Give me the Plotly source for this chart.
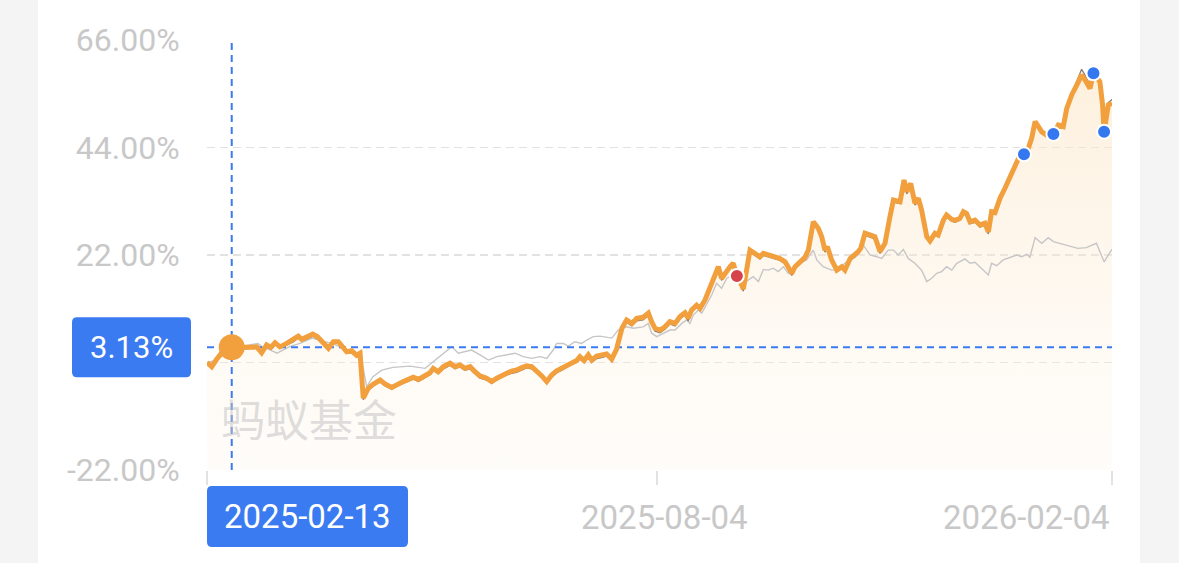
import plotly.graph_objects as go
import pandas as pd

# ---------------- data ----------------
start_date = "2025-02-03"
end_date = "2026-02-04"
mid_tick = "2025-08-04"
cross_date = "2025-02-13"
cross_value = 3.13

y_ticks = [-22, 0, 22, 44, 66]
# the 0.00% label sits under the blue value box in the reference
y_tick_text = ["-22.00%", "", "22.00%", "44.00%", "66.00%"]

# fund cumulative return (%), days counted from start_date
fund_days = [
    0, 1.9, 3.9, 5.7, 10, 16.6, 18.1, 20.1, 22.1, 24.1,
    25.8, 27.5, 29.5, 32.2, 34.9, 36.9, 38.3, 40.3, 42.8, 44.6,
    46.8, 49.1, 51.1, 53.1, 54.5, 56.5, 58.5, 60.5, 61.9, 63.2,
    65.2, 67.3, 70.0, 72.0, 74.7, 77.4, 79.4, 80.8, 83.4, 85.5,
    88.2, 90.2, 91.5, 93.5, 95.6, 98.3, 100.3, 102.3, 104.3, 106.4,
    108.4, 110.4, 113.1, 115.1, 117.2, 119.2, 121.2, 123.2, 125.2, 127.3,
    129.3, 131.3, 133.3, 135.4, 137.4, 139.4, 141.4, 143.4, 145.5, 147.5,
    149.5, 150.8, 152.5, 154.2, 155.6, 157.6, 159.6, 161.6, 163.7, 165.6,
    167.8, 169.7, 171.8, 173.8, 176.4, 178.5, 179.8, 181.2, 183.2, 185.2,
    187.2, 189.3, 191.3, 193.3, 194.6, 196.0, 198.0, 199.4, 201.4, 203.4,
    205.4, 206.8, 208.1, 209.9, 211.5, 212.8, 214.3, 216.2, 216.9, 219.6,
    221.6, 223.6, 225.0, 227.0, 229.0, 231.7, 233.8, 235.1, 236.5, 237.8,
    239.8, 241.8, 243.2, 245.2, 247.2, 248.6, 249.9, 250.9, 252.6, 254.7,
    256.7, 258.0, 260.1, 262.1, 263.4, 264.4, 266.1, 268.1, 270.1, 272.2,
    274.2, 276.2, 277.6, 280.3, 281.9, 283.0, 284.6, 286.3, 287.7, 289.0,
    291.1, 292.4, 294.4, 295.7, 297.8, 299.1, 301.2, 302.5, 304.5, 305.9,
    307.2, 308.6, 310.6, 312.6, 314.6, 316.0, 317.3, 318.7, 320.7, 322.7,
    324.7, 326.8, 328.8, 330.4, 332.1, 333.5, 334.9, 336.2, 337.6, 339.7,
    342.3, 344.3, 346.3, 347.7, 349.7, 351.8, 353.7, 355.1, 357.1, 358.5,
    361.1, 362.2, 362.8, 364.5, 366.0,
]
fund_vals = [
    0.0, -0.86, 0.66, 1.8, 3.13, 3.0, 3.1, 3.2, 2.0, 3.6,
    3.1, 4.05, 3.2, 3.9, 4.6, 5.4, 4.75, 5.15, 5.8, 5.3,
    4.25, 2.9, 4.25, 4.25, 3.4, 2.2, 2.4, 1.5, 1.9, -7.3,
    -5.3, -4.4, -3.6, -4.4, -5.1, -4.25, -3.9, -3.6, -3.0, -3.45,
    -2.55, -2.1, -1.2, -1.9, -0.85, -0.15, -0.85, -0.5, -1.2, -0.85,
    -1.9, -2.75, -3.2, -3.9, -3.2, -2.55, -2.2, -1.75, -1.55, -1.05,
    -0.7, -0.85, -1.7, -2.75, -3.9, -2.55, -1.7, -1.2, -0.5, 0.0,
    0.4, 1.2, 0.4, 1.55, 0.5, 1.3, 1.5, 1.75, 0.7, 2.7,
    7.0, 8.7, 8.0, 9.05, 9.25, 10.1, 8.35, 7.0, 6.65, 7.3,
    8.35, 8.0, 9.4, 10.2, 9.05, 10.75, 11.75, 11.1, 12.8, 15.2,
    18.25, 19.6, 17.2, 18.6, 19.6, 20.3, 17.7, 15.9, 15.0, 23.0,
    22.35, 21.65, 22.35, 22.0, 21.65, 21.3, 20.6, 19.3, 18.25, 19.6,
    20.6, 21.5, 23.0, 28.8, 27.45, 25.75, 23.0, 23.7, 21.0, 18.9,
    19.6, 18.9, 21.3, 22.0, 22.7, 23.4, 26.45, 26.1, 25.75, 22.7,
    24.4, 29.85, 33.25, 32.9, 37.35, 34.95, 36.65, 32.6, 33.6, 31.2,
    25.75, 24.9, 26.45, 26.1, 29.15, 30.2, 29.3, 29.1, 29.5, 30.85,
    30.5, 28.8, 29.15, 28.15, 28.5, 26.75, 30.85, 30.7, 33.6, 35.65,
    37.7, 40.4, 42.45, 42.6, 43.8, 45.9, 49.3, 48.3, 47.2, 46.5,
    46.75, 48.6, 48.3, 52.0, 54.75, 56.8, 58.85, 57.8, 56.1, 59.2,
    57.45, 52.7, 47.2, 52.7, 53.05,
]
# peer average (dark thin line), same days as the fund
peer_vals = [
    -0.3, -1.2, 0.3, 1.4, 2.8, 2.8, 3.0, 3.0, 1.7, 3.2,
    2.8, 3.7, 2.9, 3.5, 4.2, 5.0, 4.4, 4.8, 5.4, 4.9,
    3.9, 2.6, 3.9, 3.9, 3.0, 1.9, 2.0, 1.1, 1.5, -7.6,
    -5.7, -4.8, -4.0, -4.8, -5.5, -4.7, -4.3, -4.0, -3.4, -3.9,
    -3.0, -2.5, -1.6, -2.3, -1.3, -0.6, -1.3, -0.9, -1.6, -1.3,
    -2.3, -3.2, -3.6, -4.3, -3.6, -3.0, -2.6, -2.2, -2.0, -1.5,
    -1.1, -1.3, -2.1, -3.2, -4.3, -3.0, -2.1, -1.6, -0.9, -0.4,
    0.0, 0.7, 0.0, 1.1, 0.0, 0.8, 1.0, 1.3, 0.2, 2.3,
    6.5, 8.2, 7.5, 8.5, 8.7, 9.6, 7.8, 6.4, 6.1, 6.8,
    7.9, 7.5, 8.9, 9.7, 8.5, 10.3, 11.3, 10.6, 12.3, 14.8,
    17.8, 19.2, 16.8, 18.2, 19.2, 19.9, 17.3, 15.5, 14.6, 22.6,
    21.9, 21.2, 21.9, 21.6, 21.2, 20.9, 20.2, 18.9, 17.8, 19.2,
    20.2, 21.1, 22.6, 28.4, 27.0, 25.3, 22.6, 23.3, 20.6, 18.5,
    19.2, 18.5, 20.9, 21.6, 22.3, 23.0, 26.0, 25.7, 25.3, 22.3,
    24.0, 29.4, 32.8, 32.5, 36.9, 34.5, 36.2, 32.2, 33.2, 30.8,
    25.3, 24.5, 26.0, 25.7, 28.7, 29.8, 28.9, 28.7, 29.1, 30.4,
    30.1, 28.4, 28.7, 27.7, 28.1, 26.3, 30.4, 30.3, 33.2, 35.2,
    37.3, 40.0, 42.0, 42.2, 43.5, 45.6, 49.0, 48.0, 47.0, 46.3,
    46.6, 48.5, 48.3, 52.2, 55.2, 57.6, 60.0, 58.8, 56.8, 58.8,
    57.4, 53.4, 48.0, 53.2, 53.8,
]

# benchmark (light gray line)
bench_days = [
    0, 3.9, 10.1, 18.2, 20.6, 22.6, 25.5, 28.3, 30.7, 33.6,
    37.6, 42.5, 46.5, 51.0, 55.8, 60.7, 62.3, 64.6, 67.1, 70.7,
    75.2, 82.1, 88.2, 91.5, 94.9, 99.0, 101.6, 107.0, 110.4, 113.8,
    117.2, 121.2, 124.6, 127.9, 131.3, 134.7, 137.4, 140.0, 141.4, 144.1,
    146.1, 148.8, 151.5, 153.6, 156.2, 158.9, 163.7, 166.3, 169.7, 172.4,
    176.4, 178.5, 179.8, 181.9, 184.5, 187.2, 189.3, 192.0, 194.0, 195.3,
    196.7, 198.7, 200.1, 202.1, 204.1, 206.1, 208.1, 210.2, 212.8, 216.9,
    218.9, 220.9, 223.0, 225.0, 227.0, 229.0, 231.0, 233.1, 235.1, 237.1,
    239.8, 242.5, 245.2, 246.6, 249.2, 252.6, 254.7, 259.4, 262.8, 265.4,
    268.1, 270.8, 272.9, 275.5, 277.6, 279.6, 281.6, 283.6, 286.3, 289.0,
    291.1, 293.1, 295.1, 297.1, 299.1, 301.2, 303.2, 306.5, 308.6, 310.6,
    312.6, 316.0, 317.3, 319.4, 322.0, 324.7, 327.5, 329.5, 331.5, 332.8,
    334.9, 337.6, 340.2, 342.3, 345.0, 347.7, 350.2, 352.2, 355.6, 359.7,
    362.8, 364.5, 366.0,
]
bench_vals = [
    0.0, 0.5, 2.9, 3.7, 3.9, 3.1, 2.6, 1.9, 2.6, 3.3,
    3.9, 5.0, 4.4, 3.8, 2.8, 1.8, 1.2, -5.0, -2.9, -1.55,
    -1.0, -0.75, -1.2, 0.15, 1.55, 3.25, 1.9, 2.55, 1.55, 0.5,
    1.2, 1.55, 1.9, 1.2, 0.85, 1.2, 0.85, 2.55, 3.9, 3.9,
    3.35, 4.25, 3.9, 4.6, 5.3, 5.4, 5.0, 6.65, 7.3, 7.0,
    7.3, 8.0, 6.0, 5.3, 6.0, 6.65, 6.65, 8.0, 8.7, 8.0,
    9.7, 10.75, 10.1, 12.1, 13.8, 16.2, 15.2, 17.25, 17.9, 16.2,
    16.9, 17.55, 16.55, 19.05, 18.9, 19.3, 18.6, 19.6, 18.25, 18.9,
    20.3, 21.0, 23.0, 21.0, 19.6, 18.9, 18.9, 21.0, 22.35, 24.05,
    22.0, 21.65, 21.3, 23.0, 23.0, 22.0, 23.15, 21.3, 20.3, 18.9,
    16.55, 17.25, 18.25, 18.6, 19.6, 18.9, 20.3, 21.2, 20.3, 20.5,
    19.6, 17.9, 20.3, 19.8, 21.0, 21.55, 22.0, 21.65, 22.15, 21.55,
    25.55, 24.4, 25.55, 24.75, 24.4, 24.05, 23.7, 23.35, 23.5, 24.4,
    20.6, 22.0, 23.2,
]

# trade points
buy_days = [330.4, 342.3, 358.5, 362.8]
buy_vals = [42.6, 46.75, 59.2, 47.2]
sell_days = [214.3]
sell_vals = [17.7]

assert len(fund_days) == len(fund_vals) == len(peer_vals)
assert len(bench_days) == len(bench_vals)

# ---------------- helpers ----------------
t0 = pd.Timestamp(start_date)


def to_dates(days):
    return [t0 + pd.Timedelta(days=float(d)) for d in days]


fund_x = to_dates(fund_days)
bench_x = to_dates(bench_days)

W, H = 1179, 563
ML, MR, MT, MB = 207, 67, 40, 93
PW, PH = W - ML - MR, H - MT - MB
Y_MIN, Y_MAX = -22, 66


def px_x(x):
    return (x - ML) / PW


def px_y(y):
    return (H - MB - y) / PH


def rounded_box(x0, x1, yc, half_h, r=5):
    """paper-coordinate rounded rectangle (x in paper, yc in paper, half_h in px)"""
    rx, ry = r / PW, r / PH
    top, bot = yc + half_h / PH, yc - half_h / PH
    return (f"M {x0+rx},{top} L {x1-rx},{top} Q {x1},{top} {x1},{top-ry} "
            f"L {x1},{bot+ry} Q {x1},{bot} {x1-rx},{bot} L {x0+rx},{bot} "
            f"Q {x0},{bot} {x0},{bot+ry} L {x0},{top-ry} Q {x0},{top} {x0+rx},{top} Z")


ORANGE = "#F2A03D"
BLUE = "#3B7BF2"
LIGHT_TXT = "#C8C8C8"
FONT = "Roboto, 'Noto Sans', sans-serif"

fig = go.Figure()

# fill under fund line down to the axis bottom
fig.add_trace(go.Scatter(x=fund_x, y=[Y_MIN] * len(fund_x), mode="lines",
                         line=dict(width=0), hoverinfo="skip", showlegend=False))
fig.add_trace(go.Scatter(
    x=fund_x, y=fund_vals, mode="lines", line=dict(width=0), fill="tonexty",
    fillgradient=dict(type="vertical", start=Y_MIN, stop=60,
                      colorscale=[[0, "rgba(253,240,222,0.15)"],
                                  [1, "rgba(252,230,198,0.6)"]]),
    hoverinfo="skip", showlegend=False))

# benchmark
fig.add_trace(go.Scatter(x=bench_x, y=bench_vals, mode="lines",
                         line=dict(color="#C6C6C6", width=1.4), showlegend=False))
# peer average
fig.add_trace(go.Scatter(x=fund_x, y=peer_vals, mode="lines",
                         line=dict(color="#8A7C6E", width=1.3), showlegend=False))

# crosshair
fig.add_trace(go.Scatter(x=[cross_date, cross_date], y=[Y_MIN, Y_MAX], mode="lines",
                         line=dict(color=BLUE, width=2, dash="7px,5px"), showlegend=False))
fig.add_trace(go.Scatter(x=[start_date, end_date], y=[cross_value, cross_value], mode="lines",
                         line=dict(color=BLUE, width=2, dash="7px,5px"), showlegend=False))

# fund line
fig.add_trace(go.Scatter(x=fund_x, y=fund_vals, mode="lines",
                         line=dict(color=ORANGE, width=5, shape="linear"), showlegend=False))

# trade markers
fig.add_trace(go.Scatter(x=to_dates(buy_days), y=buy_vals, mode="markers",
                         marker=dict(size=14, color="#3478F0", line=dict(color="white", width=2)),
                         showlegend=False))
fig.add_trace(go.Scatter(x=to_dates(sell_days), y=sell_vals, mode="markers",
                         marker=dict(size=14, color="#D6424A", line=dict(color="white", width=2)),
                         showlegend=False))

# crosshair point
fig.add_trace(go.Scatter(x=[cross_date], y=[cross_value], mode="markers",
                         marker=dict(size=26, color=ORANGE), showlegend=False))

shapes = [
    # white card on gray page
    dict(type="rect", xref="paper", yref="paper", x0=px_x(38), x1=px_x(1140),
         y0=-0.4, y1=1.3, fillcolor="white", line=dict(width=0), layer="below"),
    # value label box
    dict(type="path", xref="paper", yref="paper",
         path=rounded_box(px_x(72), px_x(191), (cross_value - Y_MIN) / (Y_MAX - Y_MIN), 30),
         fillcolor=BLUE, line=dict(width=0), layer="above"),
    # date label box
    dict(type="path", xref="paper", yref="paper",
         path=rounded_box(0, px_x(408), px_y(516.5), 30.5),
         fillcolor=BLUE, line=dict(width=0), layer="above"),
]

annotations = [
    dict(text="蚂蚁基金", xref="paper", yref="y", x=px_x(309), y=-11.3,
         xanchor="center", yanchor="middle", showarrow=False,
         font=dict(family="'Noto Sans CJK SC'", size=44, color="rgba(195,195,195,0.55)")),
    dict(text=f"{cross_value:.2f}%", xref="paper", yref="y", x=px_x(131.5), y=cross_value,
         xanchor="center", yanchor="middle", showarrow=False,
         font=dict(family=FONT, size=31, color="white")),
    dict(text=cross_date, xref="paper", yref="paper", x=px_x(307.5), y=px_y(516.5),
         xanchor="center", yanchor="middle", showarrow=False,
         font=dict(family=FONT, size=33, color="white")),
    dict(text=mid_tick, xref="x", yref="paper", x=mid_tick, y=px_y(517), xshift=7,
         xanchor="center", yanchor="middle", showarrow=False,
         font=dict(family=FONT, size=33, color=LIGHT_TXT)),
    dict(text=end_date, xref="paper", yref="paper", x=1.0, y=px_y(517),
         xanchor="right", yanchor="middle", showarrow=False,
         font=dict(family=FONT, size=33, color=LIGHT_TXT)),
]

fig.update_layout(
    width=W, height=H,
    margin=dict(l=ML, r=MR, t=MT, b=MB, pad=0),
    paper_bgcolor="#F4F4F4",
    plot_bgcolor="rgba(0,0,0,0)",
    hovermode=False,
    shapes=shapes,
    annotations=annotations,
    xaxis=dict(type="date", range=[start_date, end_date], showgrid=False, zeroline=False,
               showline=False, tickvals=[start_date, mid_tick, end_date], showticklabels=False,
               ticks="outside", ticklen=14, tickwidth=1.5, tickcolor="#E2E2E2", fixedrange=True),
    yaxis=dict(range=[Y_MIN, Y_MAX], tickvals=y_ticks, ticktext=y_tick_text,
               showgrid=True, gridcolor="#E2E2E2", gridwidth=1.5, griddash="8px,5px",
               zeroline=False, showline=False, ticks="outside", ticklen=20,
               tickcolor="rgba(0,0,0,0)",
               tickfont=dict(family=FONT, size=32, color=LIGHT_TXT), fixedrange=True),
)

fig.write_html(
    "out.html",
    config={"displayModeBar": False, "staticPlot": True},
    post_script="document.body.style.margin='0';document.body.style.background='#F4F4F4';",
)
